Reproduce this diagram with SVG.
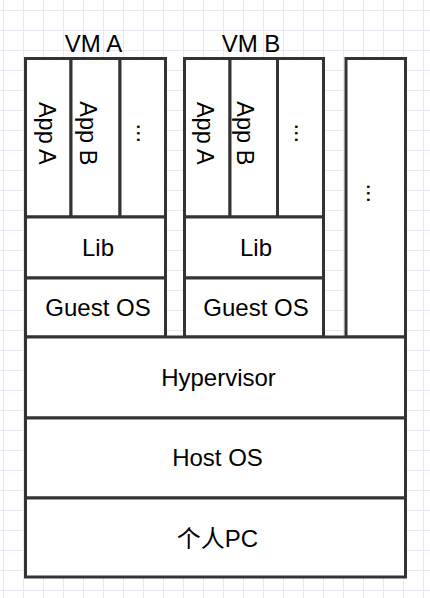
<svg xmlns="http://www.w3.org/2000/svg" width="430" height="598" viewBox="0 0 430 598">
<defs>
<pattern id="grid" patternUnits="userSpaceOnUse" x="3" y="10" width="20" height="20">
<rect x="0" y="0" width="1" height="20" fill="#e6e6f7"/>
<rect x="0" y="0" width="20" height="1" fill="#e6e6f7"/>
</pattern>
</defs>
<style>
.box{fill:#fff;stroke:#333;stroke-width:3}
.t{font-family:"Liberation Sans",Arial,"Noto Sans CJK SC",sans-serif;font-size:24px;fill:#000;text-anchor:middle}
.v{font-size:23.5px}
</style>
<rect x="0" y="0" width="430" height="598" fill="#fff"/>
<rect x="0" y="0" width="430" height="598" fill="url(#grid)"/>
<g id="vmA">
<text class="t" x="93.5" y="52">VM A</text>
<g id="vmA-appA"><rect class="box" x="25.5" y="58.5" width="45.5" height="158.5"/><text class="t v" transform="translate(38.5 133.3) rotate(90)">App A</text></g>
<g id="vmA-appB"><rect class="box" x="71" y="58.5" width="49" height="158.5"/><text class="t v" transform="translate(80 133.3) rotate(90)">App B</text></g>
<g id="vmA-more"><rect class="box" x="120" y="58.5" width="45.5" height="158.5"/><text class="t v" transform="translate(137 133.3) rotate(90)">...</text></g>
<g id="vmA-lib"><rect class="box" x="25.5" y="217" width="140" height="61"/><text class="t" x="98" y="256">Lib</text></g>
<g id="vmA-guest"><rect class="box" x="25.5" y="278" width="140" height="59"/><text class="t" x="98" y="316">Guest OS</text></g>
</g>
<g id="vmB">
<text class="t" x="251" y="52">VM B</text>
<g id="vmB-appA"><rect class="box" x="184.5" y="58.5" width="45.5" height="158.5"/><text class="t v" transform="translate(196.5 133.3) rotate(90)">App A</text></g>
<g id="vmB-appB"><rect class="box" x="230" y="58.5" width="47.5" height="158.5"/><text class="t v" transform="translate(236.5 133.3) rotate(90)">App B</text></g>
<g id="vmB-more"><rect class="box" x="277.5" y="58.5" width="46" height="158.5"/><text class="t v" transform="translate(295 133.3) rotate(90)">...</text></g>
<g id="vmB-lib"><rect class="box" x="184.5" y="217" width="139" height="61"/><text class="t" x="256" y="256">Lib</text></g>
<g id="vmB-guest"><rect class="box" x="184.5" y="278" width="139" height="59"/><text class="t" x="256" y="316">Guest OS</text></g>
</g>
<g id="vmMore"><rect class="box" x="346" y="58.5" width="59.5" height="278.5"/><text class="t v" transform="translate(366.7 193.3) rotate(90)">...</text></g>
<g id="hypervisor"><rect class="box" x="25.5" y="337" width="380" height="81"/><text class="t" x="218.5" y="386">Hypervisor</text></g>
<g id="hostOS"><rect class="box" x="25.5" y="418" width="380" height="80"/><text class="t" x="217.5" y="466">Host OS</text></g>
<g id="pc"><rect class="box" x="25.5" y="498" width="380" height="79"/><text class="t" x="217.5" y="546.5">个人PC</text></g>
<g id="connectors"/>
</svg>
